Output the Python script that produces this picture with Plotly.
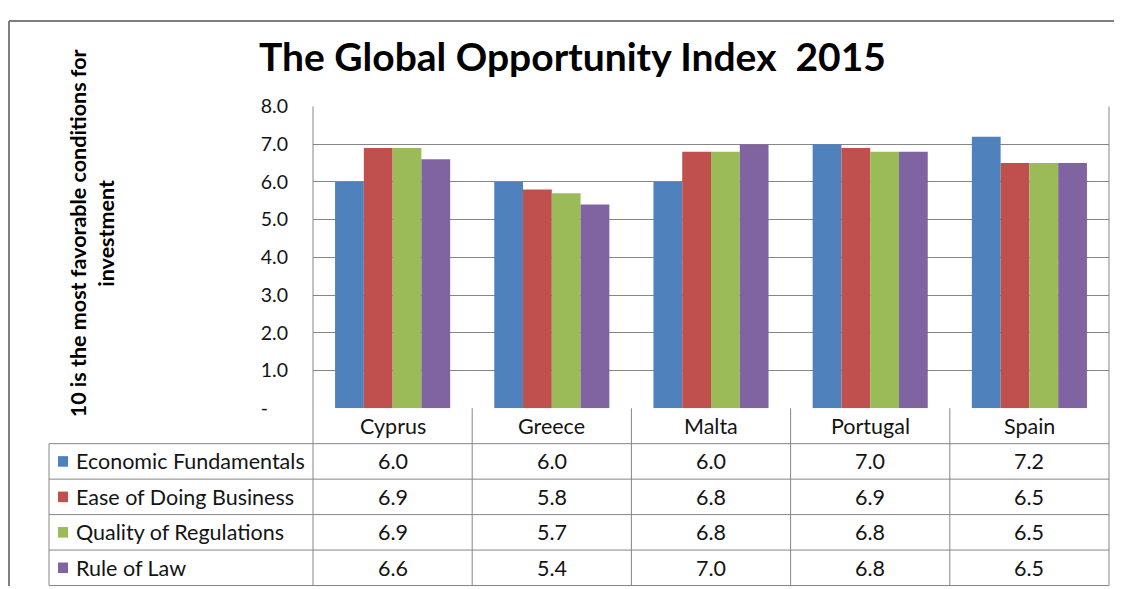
import plotly.graph_objects as go

W, H = 1122, 589

countries = ['Cyprus', 'Greece', 'Malta', 'Portugal', 'Spain']
series    = ['Economic Fundamentals', 'Ease of Doing Business',
             'Quality of Regulations', 'Rule of Law']
econ      = [6.0, 6.0, 6.0, 7.0, 7.2]
ease      = [6.9, 5.8, 6.8, 6.9, 6.5]
quality   = [6.9, 5.7, 6.8, 6.8, 6.5]
law       = [6.6, 5.4, 7.0, 6.8, 6.5]
colors    = ['#4F81BD', '#C0504D', '#9BBB59', '#8064A2']
y_ticks   = [0, 1, 2, 3, 4, 5, 6, 7, 8]
y_labels  = ['-\u00a0\u00a0\u00a0\u00a0', '1.0', '2.0', '3.0', '4.0', '5.0',
             '6.0', '7.0', '8.0']

FONT  = 'Lato'
GRID  = '#868686'
TEXT  = '#141414'
# plot area / table geometry in figure pixels
x0, x1 = 305, 1101
y_top, y_axis = 90, 404
row_h = 36.9
tbl_left = 41

def fx(x):
    return x / W

def fy(y):
    return 1 - y / H

fig = go.Figure()
for name, vals, col in zip(series, [econ, ease, quality, law], colors):
    fig.add_trace(go.Bar(x=countries, y=vals, name=name, marker_color=col,
                         marker_line_width=0, hoverinfo='skip'))

shapes, annos = [], []
line = dict(color=GRID, width=1)

# outer frame
shapes.append(dict(type='line', xref='paper', yref='paper', x0=fx(1), x1=1,
                   y0=fy(1), y1=fy(1), line=dict(color='#7f7f7f', width=2)))
shapes.append(dict(type='line', xref='paper', yref='paper', x0=fx(1), x1=fx(1),
                   y0=fy(1), y1=0, line=dict(color='#7f7f7f', width=2)))

# table lines
n_rows = len(series)
col_w = (x1 - x0) / len(countries)
y_bottom = y_axis + row_h * (n_rows + 1)
for k in range(1, n_rows + 2):
    y = y_axis + row_h * k
    shapes.append(dict(type='line', xref='paper', yref='paper', x0=fx(tbl_left),
                       x1=fx(x1), y0=fy(y), y1=fy(y), line=line))
shapes.append(dict(type='line', xref='paper', yref='paper', x0=fx(tbl_left),
                   x1=fx(tbl_left), y0=fy(y_axis + row_h), y1=fy(y_bottom), line=line))
for k in range(len(countries) + 1):
    x = x0 + col_w * k
    top = y_top if k in (0, len(countries)) else y_axis
    shapes.append(dict(type='line', xref='paper', yref='paper', x0=fx(x),
                       x1=fx(x), y0=fy(top), y1=fy(y_bottom), line=line))

cell_font = dict(size=21.5, color=TEXT)

# category header and values
for j, c in enumerate(countries):
    cx = fx(x0 + col_w * (j + 0.5))
    annos.append(dict(x=cx, y=fy(y_axis + row_h * 0.5), xref='paper', yref='paper',
                      text=c, showarrow=False, xanchor='center', yanchor='middle',
                      font=cell_font))
    for i, vals in enumerate([econ, ease, quality, law]):
        annos.append(dict(x=cx, y=fy(y_axis + row_h * (i + 1.5)), xref='paper',
                          yref='paper', text=f'{vals[j]:.1f}', showarrow=False,
                          xanchor='center', yanchor='middle', font=cell_font))

# legend keys in the table
for i, (name, col) in enumerate(zip(series, colors)):
    yc = y_axis + row_h * (i + 1.5)
    shapes.append(dict(type='rect', xref='paper', yref='paper', x0=fx(50), x1=fx(60),
                       y0=fy(yc - 5.5), y1=fy(yc + 5.5), fillcolor=col, line_width=0))
    annos.append(dict(x=fx(66), y=fy(yc), xref='paper', yref='paper', text=name,
                      xanchor='left', yanchor='middle', showarrow=False,
                      font=cell_font))

# title and axis title
annos.append(dict(x=fx(564), y=fy(37), xref='paper', yref='paper',
                  text='<b>The Global Opportunity Index  2015</b>', showarrow=False,
                  xanchor='center', yanchor='middle',
                  font=dict(size=39, color='black')))
annos.append(dict(x=fx(84), y=fy(222), xref='paper', yref='paper', textangle=-90,
                  text='<b>10 is the most favorable conditions for<br>investment</b>',
                  showarrow=False, xanchor='center', yanchor='middle',
                  font=dict(size=21.5, color='black')))

fig.update_layout(
    width=W, height=H, margin=dict(l=0, r=0, t=0, b=0),
    paper_bgcolor='white', plot_bgcolor='white',
    font=dict(family=FONT, color=TEXT),
    barmode='group', bargap=0.277, bargroupgap=0, showlegend=False,
    shapes=shapes, annotations=annos,
    xaxis=dict(domain=[fx(x0), fx(x1)], showticklabels=False, ticks='',
               showline=False, showgrid=False),
    yaxis=dict(domain=[fy(y_axis), fy(y_top)], range=[0, 8],
               tickvals=y_ticks, ticktext=y_labels, tickfont=dict(size=19.5),
               ticks='', ticklen=0, ticklabelstandoff=24,
               showgrid=True, gridcolor=GRID, gridwidth=1,
               showline=False, zeroline=False),
)
fig.write_html("out.html")
